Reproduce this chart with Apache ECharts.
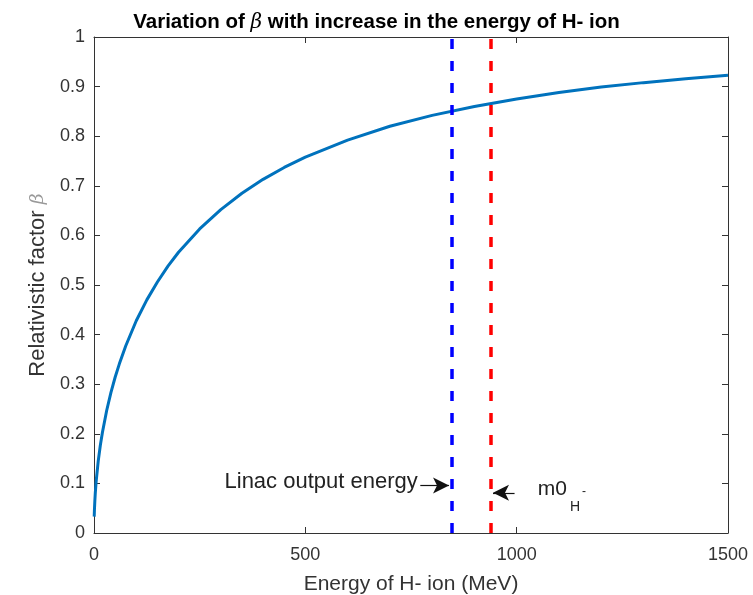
<!DOCTYPE html>
<html>
<head>
<meta charset="utf-8">
<script src="https://cdn.jsdelivr.net/npm/echarts@6/dist/echarts.min.js"></script>
<style>
  html, body { margin: 0; padding: 0; background: #fff; }
  #chart { width: 753px; height: 595px; }
</style>
</head>
<body>
<div id="chart"></div>
<script>
// kinetic energy of the H- ion (MeV)
const energy = [0.5, 1, 2, 3, 5, 10, 15, 20, 30, 40, 50, 60, 75, 100, 125, 150, 175, 200, 250,
  300, 350, 400, 450, 500, 600, 700, 800, 900, 1000, 1100, 1200, 1300, 1400, 1500]
// relativistic factor beta at those energies
const beta = [0.033, 0.046, 0.065, 0.080, 0.103, 0.145, 0.177, 0.203, 0.247, 0.283, 0.314,
  0.341, 0.377, 0.428, 0.470, 0.506, 0.538, 0.566, 0.613, 0.652, 0.685, 0.713, 0.737,
  0.758, 0.792, 0.820, 0.842, 0.860, 0.875, 0.888, 0.899, 0.908, 0.916, 0.923]
// vertical marker lines (MeV)
const linacEnergy = 846
const restMass = 938
// annotation anchors [x, y] in data units
const linacArrow = [[772, 0.096], [840, 0.096]]
const massArrow = [[995, 0.081], [944, 0.081]]
const linacText = [766, 0.102]
const massText = [1050, 0.060]

const font = '"Liberation Sans", Arial, sans-serif'
const axisColor = '#333'

const myChart = echarts.init(document.getElementById('chart'))

// mirrored box axes (top / right) with inner ticks only
function sideAxis() {
  return {
    axisLine: { show: true, onZero: false, lineStyle: { color: axisColor, width: 1 } },
    axisTick: { show: true, inside: true, length: 6, lineStyle: { color: axisColor } },
    axisLabel: { show: false },
    splitLine: { show: false }
  }
}

const option = {
  animation: false,
  title: {
    text: 'Variation of {b|β} with increase in the energy of H- ion',
    left: 'center',
    top: 7,
    textStyle: {
      fontFamily: font,
      fontWeight: 'bold',
      fontSize: 20.5,
      color: '#000',
      rich: {
        b: { fontFamily: '"DejaVu Serif", serif', fontStyle: 'italic', fontWeight: 'normal', fontSize: 20, color: '#000' }
      }
    }
  },
  grid: { left: 94, right: 25, top: 37, bottom: 62, containLabel: false, outerBoundsMode: 'none' },
  xAxis: [
    {
      type: 'value',
      min: 0,
      max: 1500,
      interval: 500,
      name: 'Energy of H- ion (MeV)',
      nameLocation: 'middle',
      nameGap: 41,
      nameTextStyle: { fontFamily: font, fontSize: 21, color: axisColor },
      axisLine: { show: true, onZero: false, lineStyle: { color: axisColor, width: 1 } },
      axisTick: { show: true, inside: true, length: 6, lineStyle: { color: axisColor } },
      axisLabel: { fontFamily: font, fontSize: 18, color: axisColor, margin: 13, formatter: v => String(v) },
      splitLine: { show: false }
    },
    Object.assign({ type: 'value', position: 'top', min: 0, max: 1500, interval: 500 }, sideAxis())
  ],
  yAxis: [
    {
      type: 'value',
      min: 0,
      max: 1,
      interval: 0.1,
      name: 'Relativistic factor {b|β}',
      nameLocation: 'middle',
      nameGap: 43,
      nameTextStyle: {
        fontFamily: font,
        fontSize: 22,
        color: axisColor,
        rich: {
          b: { fontFamily: '"DejaVu Serif", serif', fontStyle: 'italic', fontSize: 19, color: '#999' }
        }
      },
      axisLine: { show: true, onZero: false, lineStyle: { color: axisColor, width: 1 } },
      axisTick: { show: true, inside: true, length: 6, lineStyle: { color: axisColor } },
      axisLabel: {
        fontFamily: font,
        fontSize: 18,
        color: axisColor,
        margin: 9,
        formatter: v => String(Math.round(v * 10) / 10)
      },
      splitLine: { show: false }
    },
    Object.assign({ type: 'value', position: 'right', min: 0, max: 1, interval: 0.1 }, sideAxis())
  ],
  series: [
    {
      name: 'beta',
      type: 'line',
      data: energy.map((e, i) => [e, beta[i]]),
      showSymbol: false,
      lineStyle: { color: '#0072BD', width: 3 },
      z: 3
    },
    {
      name: 'markers',
      type: 'line',
      data: [],
      silent: true,
      markLine: {
        silent: true,
        animation: false,
        symbol: 'none',
        label: { show: false },
        data: [
          { xAxis: linacEnergy, lineStyle: { color: '#0000ff', width: 3.5, type: [10, 12] } },
          { xAxis: restMass, lineStyle: { color: '#ff0000', width: 3.5, type: [10, 12] } },
          [
            { coord: linacArrow[0], symbol: 'none', lineStyle: { color: '#111', width: 1.2, type: 'solid' } },
            { coord: linacArrow[1], symbol: 'arrow', symbolSize: [12, 16] }
          ],
          [
            { coord: massArrow[0], symbol: 'none', lineStyle: { color: '#111', width: 1.2, type: 'solid' } },
            { coord: massArrow[1], symbol: 'arrow', symbolSize: [12, 16] }
          ]
        ]
      },
      markPoint: {
        silent: true,
        symbol: 'circle',
        symbolSize: 0,
        data: [
          {
            coord: linacText,
            label: {
              show: true, position: 'left', distance: 0,
              fontFamily: font, fontSize: 22, color: '#222',
              formatter: 'Linac output energy'
            }
          },
          {
            coord: massText,
            label: {
              show: true, position: 'right', distance: 0,
              fontFamily: font, fontSize: 21, color: '#222',
              formatter: '{m|m0}{s|H}{p|-}',
              rich: {
                m: { fontFamily: font, fontSize: 21, lineHeight: 21, color: '#222', verticalAlign: 'bottom', padding: [0, 0, 14, 0] },
                s: { fontFamily: font, fontSize: 14, lineHeight: 14, color: '#222', verticalAlign: 'bottom', padding: [0, 0, 0, 3] },
                p: { fontFamily: font, fontSize: 12, lineHeight: 12, color: '#222', verticalAlign: 'bottom', padding: [0, 0, 16, 2] }
              }
            }
          }
        ]
      }
    }
  ]
}

myChart.setOption(option)
window.addEventListener('resize', function() {
  myChart.resize()
})
</script>
</body>
</html>
